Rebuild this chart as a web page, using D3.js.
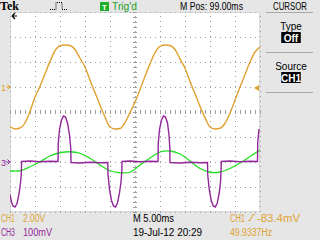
<!DOCTYPE html>
<html><head><meta charset="utf-8">
<script src="https://cdn.jsdelivr.net/npm/d3@7"></script>
<style>
html,body{margin:0;padding:0;background:#e6e6e6;overflow:hidden;}
svg{display:block;font-family:"Liberation Sans",Arial,sans-serif;}
</style></head><body>
<svg id="c" width="320" height="240"></svg>
<script>
// ---------- data ----------
// horizontal: 5.00 ms/div, 10 divisions
const timeDivs = [0,5,10,15,20,25,30,35,40,45,50];           // ms
const ch1Step = 1;                                             // ms between CH1 samples
const ch1Volts = [-3.16,-3.36,-3.28,-2.88,-1.95,-0.80,0.05,1.05,2.05,2.90,3.30,
                  3.36,3.32,3.00,2.30,1.60,0.55,-0.45,-1.45,-2.40,-3.20,-3.36,
                  -3.32,-2.85,-2.05,-1.20,-0.20,0.85,1.85,2.75,3.25,3.36,3.32,
                  3.00,2.25,1.50,0.45,-0.55,-1.55,-2.45,-3.20,-3.36,-3.30,-2.90,
                  -2.10,-1.05,0.00,1.00,2.00,2.80,3.20];
const ch3Time = [0,0.3,0.6,1.0,1.4,1.8,2.1,2.26,2.32,
                 4,6,8,9.6,9.66,9.9,10.3,10.7,11.1,11.5,11.9,12.15,12.2,
                 14,16,18,19.55,19.6,19.9,20.3,20.7,21.1,21.5,21.9,22.2,22.36,22.4,
                 24,26,28,29.6,29.66,29.9,30.3,30.7,31.1,31.5,31.8,31.97,32.0,
                 34,36,38,39.5,39.54,39.85,40.25,40.65,41.05,41.45,41.85,42.1,42.2,42.25,
                 44,46,48,49.5,49.55,49.8];
const ch3mV = [-130,-160,-176,-180,-166,-128,-84,-48,2,
               4,1,3,2,76,130,168,184,180,156,108,56,-2,
               -4,-1,-3,-2,-50,-110,-154,-176,-180,-164,-124,-80,-40,2,
               4,1,3,2,76,130,168,184,180,156,108,56,-2,
               -4,-1,-3,-2,-50,-110,-154,-176,-180,-164,-124,-80,-40,2,
               4,1,3,2,80,132];
const ch2Step = 2;                                             // ms between green samples
const ch2mV = [-35,-35,-19,1,24,37,41,35,15,-12,-35,-43,-41,-12,16,40,44,32,4,-26,-41,-40,-26,-4,22,48];
const vDivs = [0,1,2,3,4,5,6,7,8];
const topTexts = {tek:"Tek", trig:"Trig'd", mpos:"M Pos: 99.00ms", menu:"CURSOR"};
const menuItems = [{label:"Type", value:"Off"},{label:"Source", value:"CH1"}];
const statusLeft = [{text:"CH1", val:"2.00V", ch:1},{text:"CH3", val:"100mV", ch:3}];
const statusMid = ["M 5.00ms","19-Jul-12 20:29"];
const statusRight = ["CH1","-83.4mV","49.9337Hz"];

// ---------- layout ----------
const L=10, T=12, W=250, H=200;
const col1="#e0a232", col3="#92279a", col2="#22e022", grid="#a0a0a0";
const svg = d3.select("#c");
svg.append("rect").attr("width",320).attr("height",240).attr("fill","#e6e6e6");
svg.append("rect").attr("x",L).attr("y",T).attr("width",W).attr("height",H).attr("fill","#ffffff");

const x = d3.scaleLinear().domain([0,50]).range([L,L+W]);
const divScale = d3.scaleLinear().domain([0,8]).range([T,T+H]);
const y1 = d3.scaleLinear().domain([-10,6]).range([T+H,T]);      // CH1 2V/div, ground 3 div below top
const y3 = d3.scaleLinear().domain([-200,600]).range([T+H,T]);   // CH3 100mV/div, ground 6 div below top

// grid via axes
const gV = svg.append("g").attr("transform",`translate(0,${T+H})`)
  .call(d3.axisBottom(x).tickValues(timeDivs).tickSizeInner(-H).tickSizeOuter(0).tickFormat(""));
gV.select(".domain").remove();
gV.selectAll("line").attr("stroke",grid).attr("stroke-dasharray","1,4");
const gH = svg.append("g").attr("transform",`translate(${L},0)`)
  .call(d3.axisLeft(divScale).tickValues(vDivs).tickSizeInner(-W).tickSizeOuter(0).tickFormat(""));
gH.select(".domain").remove();
gH.selectAll("line").attr("stroke",grid).attr("stroke-dasharray","1,4");
// border
svg.append("rect").attr("x",L+0.5).attr("y",T+0.5).attr("width",W-1).attr("height",H-1)
  .attr("fill","none").attr("stroke","#b4b4b4").attr("stroke-dasharray","1,1");
// center cross ticks
const minorT = d3.range(0,50.01,1);
const cx = svg.append("g").attr("transform",`translate(0,${divScale(4)-2})`)
  .call(d3.axisBottom(x).tickValues(minorT).tickSizeInner(4).tickSizeOuter(0).tickFormat(""));
cx.select(".domain").remove(); cx.selectAll("line").attr("stroke",grid);
const minorV = d3.range(0,8.01,0.2);
const cy = svg.append("g").attr("transform",`translate(${x(25)-2},0)`)
  .call(d3.axisRight(divScale).tickValues(minorV).tickSizeInner(4).tickSizeOuter(0).tickFormat(""));
cy.select(".domain").remove(); cy.selectAll("line").attr("stroke",grid);

// traces
svg.append("clipPath").attr("id","pc").append("rect").attr("x",L).attr("y",T).attr("width",W).attr("height",H);
const line1 = d3.line().x((d,i)=>x(i*ch1Step)).y(d=>y1(d)).curve(d3.curveMonotoneX);
svg.append("path").attr("d",line1(ch1Volts)).attr("fill","none").attr("stroke",col1).attr("stroke-width",1.4).attr("clip-path","url(#pc)");
const line2 = d3.line().x((d,i)=>x(i*ch2Step)).y(d=>y3(d)).curve(d3.curveCatmullRom);
svg.append("path").attr("d",line2(ch2mV)).attr("fill","none").attr("stroke",col2).attr("stroke-width",1.3).attr("clip-path","url(#pc)");
const line3 = d3.line().x(d=>x(d[0])).y(d=>y3(d[1]));
svg.append("path").attr("d",line3(ch3Time.map((t,i)=>[t,ch3mV[i]]))).attr("fill","none").attr("stroke",col3).attr("stroke-width",1.4).attr("clip-path","url(#pc)");

// ground markers
function gnd(label, yy, c){
  svg.append("text").attr("x",1).attr("y",yy+3.5).attr("font-size",9).attr("fill",c).text(label);
  svg.append("path").attr("d",`M6,${yy}H10M7.5,${yy-2.5}L10,${yy}L7.5,${yy+2.5}`).attr("stroke",c).attr("fill","none").attr("stroke-width",1);
}
gnd("1", y1(0), col1);
gnd("3", y3(0), col3);
// trigger level arrow (right) and trigger pos arrow (top-left)
svg.append("path").attr("d",`M${L+W-6},${y1(0)+1}l5,-3v6z`).attr("fill",col1);
svg.append("path").attr("d",`M12,16l3,-3M12,16l3,3M12,16h5`).attr("stroke","#000").attr("stroke-width",1.2).attr("fill","none");

// text helper with fitted width
function txt(s, xx, yy, c, len, opts={}){
  const t = svg.append("text").attr("x",xx).attr("y",yy).attr("font-size",opts.size||10).attr("fill",c).text(s);
  if (len) t.attr("textLength",len).attr("lengthAdjust","spacingAndGlyphs");
  if (opts.anchor) t.attr("text-anchor",opts.anchor);
  if (opts.weight) t.attr("font-weight",opts.weight);
  return t;
}

// top bar
svg.append("text").attr("x",0).attr("y",10).attr("font-family","'Liberation Serif','Times New Roman',serif")
  .attr("font-weight","bold").attr("font-size",12).attr("fill","#000").text(topTexts.tek);
svg.append("path").attr("d","M50,9.5H56V2.5H62V9.5H68").attr("stroke","#000").attr("stroke-dasharray","1,1").attr("fill","none");
svg.append("rect").attr("x",100).attr("y",2).attr("width",9).attr("height",9).attr("fill","#1fae2a");
txt("T",104.5,9.5,"#fff",null,{size:8,weight:"bold",anchor:"middle"});
txt(topTexts.trig,112,10,"#22a02a",25);
txt(topTexts.mpos,180,10,"#000",63);
txt(topTexts.menu,273,10,"#000",34);

// menu
[12,52,92].forEach(yy=>svg.append("line").attr("x1",266).attr("x2",313).attr("y1",yy+0.5).attr("y2",yy+0.5).attr("stroke","#a8a8a8"));
menuItems.forEach((m,i)=>{
  const base = 12 + i*40;
  txt(m.label,291,base+18,"#000",null,{anchor:"middle"});
  const tw = m.value.length*5.5+3;
  svg.append("rect").attr("x",291-tw/2).attr("y",base+20).attr("width",tw).attr("height",11).attr("fill","#000");
  txt(m.value,291,base+29.5,"#fff",null,{anchor:"middle",weight:"bold"});
});

// status
statusLeft.forEach((s,i)=>{
  const c = s.ch===1?col1:col3;
  txt(s.text,1,222+i*14,c,14);
  txt(s.val,23,222+i*14,c,s.ch===1?22:29);
});
txt(statusMid[0],133,222,"#000",41);
txt(statusMid[1],133,236,"#000",69);
txt(statusRight[0],230,222,col1,15);
svg.append("path").attr("d","M248,220.5h2l3,-6h2").attr("stroke",col1).attr("fill","none");
txt(statusRight[1],257,222,col1,43);
txt(statusRight[2],230,236,col1,42);
</script>
</body></html>
